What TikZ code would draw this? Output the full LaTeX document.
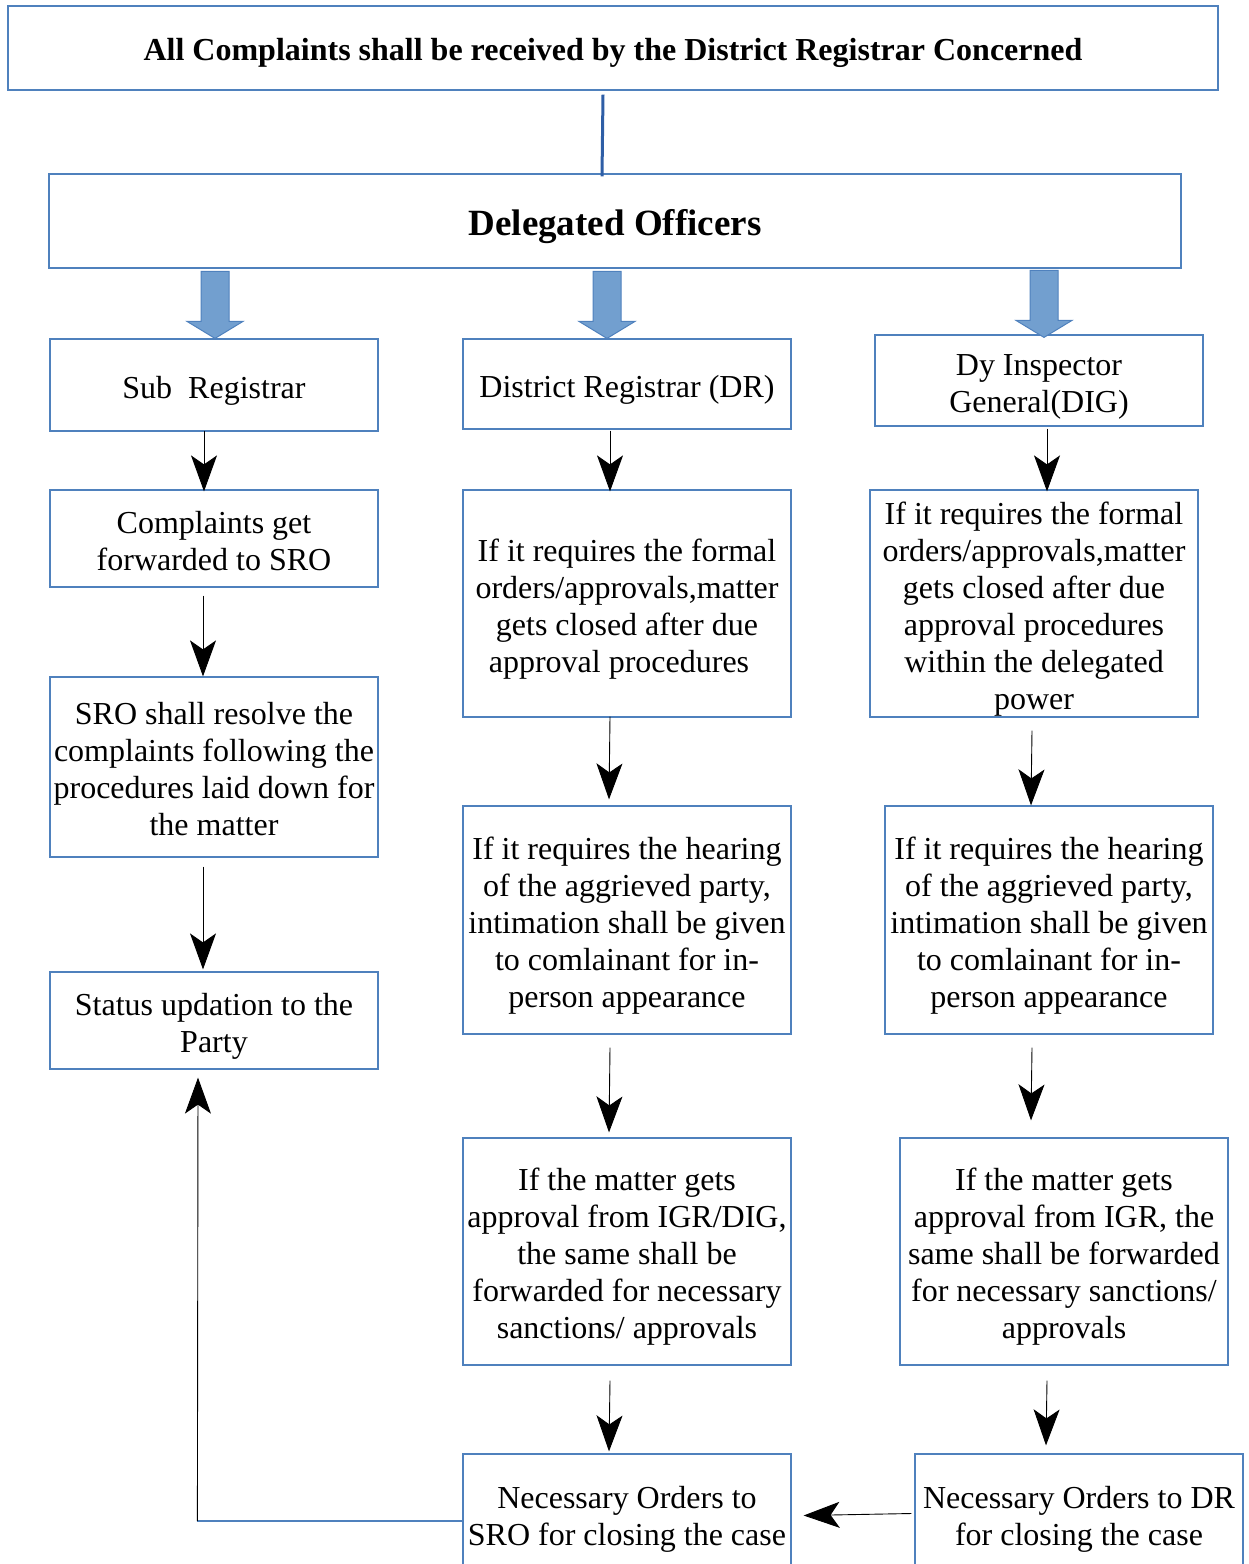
\documentclass[tikz,border=0pt]{standalone}
\usepackage{fontspec}
\setmainfont{Liberation Serif}
\usetikzlibrary{arrows.meta,calc}
\definecolor{boxblue}{RGB}{79,129,189}
\definecolor{linkblue}{RGB}{46,94,166}
\definecolor{arrowfill}{RGB}{114,159,207}
\definecolor{arrowedge}{RGB}{79,129,189}
\newcommand{\topstrut}{\rule{0pt}{33pt}}
\newcommand{\botstrut}{\rule[-7pt]{0pt}{7pt}}
\begin{document}
\begin{tikzpicture}[x=1pt,y=-1pt,
  box/.style={draw=boxblue,line width=1.2pt,inner sep=0pt,minimum width=328pt,align=center,
    font=\fontsize{32}{37}\selectfont},
  headbox/.style={draw=boxblue,line width=1.2pt,inner sep=0pt,align=center},
  arr/.style={line width=0.9pt,-{Stealth[length=36pt,width=26pt,inset=9pt]}},
  barrow/.pic={\draw[fill=arrowfill,draw=arrowedge,line width=1pt]
     (-14,-67) -- (14,-67) -- (14,-17) -- (28,-17) -- (0,0) -- (-28,-17) -- (-14,-17) -- cycle;}
]
\useasboundingbox (0,0) rectangle (1248,1564);

% header boxes
\node[headbox,minimum width=1210pt,minimum height=84pt,font=\fontsize{32}{37}\selectfont\bfseries]
  (top) at (613,48) {\topstrut All Complaints shall be received by the District Registrar Concerned\botstrut};
\node[headbox,minimum width=1132pt,minimum height=94pt,font=\fontsize{37}{42}\selectfont\bfseries]
  (deleg) at (615,221) {\rule{0pt}{38pt}Delegated Officers\rule[-8pt]{0pt}{8pt}};
\draw[linkblue,line width=3pt] ($(top.south)+(-10,4)$) -- ($(deleg.north)+(-13,3)$);

% column 1
\node[box,minimum height=92pt] (sub) at (214,385) {\topstrut Sub\ \ Registrar\botstrut};
\node[box,minimum height=97pt] (cfw) at (214,538.5) {\topstrut Complaints get\\forwarded to SRO\botstrut};
\node[box,minimum height=180pt] (sro) at (214,767) {\topstrut SRO shall resolve the\\complaints following the\\procedures laid down for\\the matter\botstrut};
\node[box,minimum height=97pt] (status) at (214,1020.5) {\topstrut Status updation to the\\Party\botstrut};

% column 2
\node[box,minimum height=90pt] (dr) at (627,384) {\topstrut District Registrar (DR)\botstrut};
\node[box,minimum height=227pt] (drf) at (627,603.5) {\topstrut If it requires the formal\\orders/approvals,matter\\gets closed after due\\approval procedures\hspace*{16pt}\botstrut};
\node[box,minimum height=228pt] (drh) at (627,920) {\topstrut If it requires the hearing\\of the aggrieved party,\\intimation shall be given\\to comlainant for in-\\person appearance\botstrut};
\node[box,minimum height=227pt] (dra) at (627,1251.5) {\topstrut If the matter gets\\approval from IGR/DIG,\\the same shall be\\forwarded for necessary\\sanctions/ approvals\botstrut};
\node[box,minimum height=119pt] (drn) at (627,1513.5) {\topstrut Necessary Orders to\\SRO for closing the case\botstrut};

% column 3
\node[box,minimum height=91pt] (dig) at (1039,380.5) {\topstrut Dy Inspector\\General(DIG)\botstrut};
\node[box,minimum height=227pt] (digf) at (1034,603.5) {\topstrut If it requires the formal\\orders/approvals,matter\\gets closed after due\\approval procedures\hspace*{8pt}\\within the delegated\\power\botstrut};
\node[box,minimum height=228pt] (digh) at (1049,920) {\topstrut If it requires the hearing\\of the aggrieved party,\\intimation shall be given\\to comlainant for in-\\person appearance\botstrut};
\node[box,minimum height=227pt] (diga) at (1064,1251.5) {\topstrut If the matter gets\\approval from IGR, the\\same shall be forwarded\\for necessary sanctions/\\approvals\botstrut};
\node[box,minimum height=119pt] (dign) at (1079,1513.5) {\topstrut Necessary Orders to DR\\for closing the case\botstrut};

% block arrows
\pic at ($(sub.north)+(1,0)$) {barrow};
\pic at ($(dr.north)+(-20,0)$) {barrow};
\pic at ($(dig.north)+(5,3)$) {barrow};

% column 1 arrows
\draw[arr] ($(sub.south)+(-10,-1)$) -- ($(cfw.north)+(-10,2)$);
\draw[arr] ($(cfw.south)+(-11,8)$) -- ($(sro.north)+(-11,0)$);
\draw[arr] ($(sro.south)+(-11,9)$) -- ($(status.north)+(-11,-2)$);

% column 2 arrows
\draw[arr] ($(dr.south)+(-17,1)$) -- ($(drf.north)+(-17,2)$);
\draw[arr] ($(drf.south)+(-17,-1)$) -- ($(drh.north)+(-18,-6)$);
\draw[arr] ($(drh.south)+(-17,13)$) -- ($(dra.north)+(-18,-5)$);
\draw[arr] ($(dra.south)+(-17,15)$) -- ($(drn.north)+(-18,-2)$);

% column 3 arrows
\draw[arr] ($(dig.south)+(8,2)$) -- ($(digf.north)+(13,2)$);
\draw[arr] ($(digf.south)+(-2,13)$) -- ($(digh.north)+(-18,0)$);
\draw[arr] ($(digh.south)+(-17,13)$) -- ($(diga.north)+(-33,-17)$);
\draw[arr] ($(diga.south)+(-17,15)$) -- ($(dign.north)+(-33,-8)$);

% cross arrows
\draw[arr] ($(dign.west)+(-3,0)$) -- ($(drn.east)+(12,2)$);
\coordinate (fbc) at ($(drn.west)+(-265,7.5)$);
\draw[boxblue,line width=1.2pt] ($(drn.west)+(0,7.5)$) -- (fbc);
\draw[arr] (fbc) -- ($(status.south)+(-16,8)$);
\end{tikzpicture}
\end{document}
